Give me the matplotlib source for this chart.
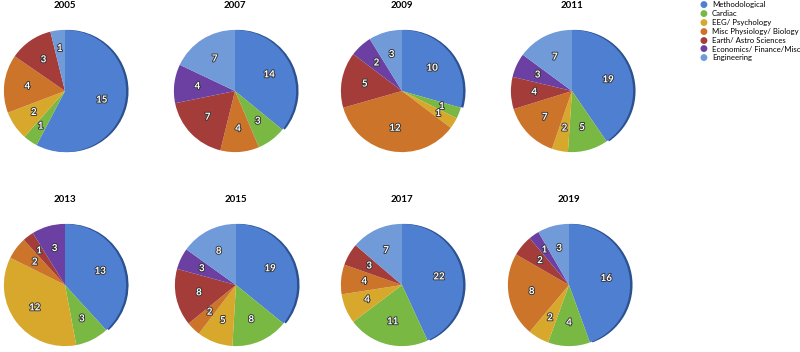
import numpy as np
import matplotlib.pyplot as plt
import matplotlib.patheffects as pe

# Papers per application area, clockwise from 12 o'clock
categories = ['Methodological', 'Cardiac', 'EEG/ Psychology', 'Misc Physiology/ Biology',
              'Earth/ Astro Sciences', 'Economics/ Finance/Misc', 'Engineering']
colors = ['#4f7fd0', '#78b843', '#d8a82d', '#cc7429', '#a43c3a', '#6b40a2', '#719ad9']

years = ['2005', '2007', '2009', '2011', '2013', '2015', '2017', '2019']
counts = {
    '2005': [15, 1, 2, 4, 3, 0, 1],
    '2007': [14, 3, 0, 4, 7, 4, 7],
    '2009': [10, 1, 1, 12, 5, 2, 3],
    '2011': [19, 5, 2, 7, 4, 3, 7],
    '2013': [13, 3, 12, 2, 1, 3, 0],
    '2015': [19, 8, 5, 2, 8, 3, 8],
    '2017': [22, 11, 4, 4, 3, 0, 7],
    '2019': [16, 4, 2, 8, 2, 1, 3],
}

W, H = 800, 352
fig = plt.figure(figsize=(W / 100, H / 100), dpi=100)
plt.rcParams['font.family'] = ['Lato', 'DejaVu Sans']

# pie centres in pixels (x from left, y from top) and radius
centres = [(65, 91), (235, 91), (402, 91), (572, 91),
           (65, 285), (236, 285), (402, 285), (569, 285)]
R = 66

for year, (cx, cy) in zip(years, centres):
    ax = fig.add_axes([(cx - R) / W, 1 - (cy + R) / H, 2 * R / W, 2 * R / H])
    vals = counts[year]
    # shadow under the methodological slice
    sh, _ = ax.pie(vals, colors=['#2c5190'] + ['none'] * 6, startangle=90,
                   counterclock=False, center=(0.04, 0.0), radius=1.0)
    for w in sh:
        w.set_zorder(0)
    wedges, _ = ax.pie(vals, colors=colors, startangle=90, counterclock=False,
                       radius=1.0, wedgeprops=dict(linewidth=0))
    for w, v in zip(wedges, vals):
        if v == 0:
            continue
        ang = np.deg2rad((w.theta1 + w.theta2) / 2)
        r = 0.62 if v > 1 else 0.7
        ax.text(r * np.cos(ang), r * np.sin(ang), str(v), ha='center', va='center',
                color='white', fontsize=7, fontweight='bold',
                path_effects=[pe.withStroke(linewidth=1.3, foreground='#333333')])
    ax.set_xlim(-1.08, 1.08)
    ax.set_ylim(-1.02, 1.02)
    ax.set_aspect('equal')
    ax.axis('off')
    fig.text(cx / W, 1 - (cy - R - 20) / H, year, ha='center', va='center',
             fontsize=7, fontweight='bold')

# legend
lx, ly, dy = 703, 5, 8.8
for i, (c, lab) in enumerate(zip(colors, categories)):
    y = 1 - (ly + i * dy) / H
    fig.text(lx / W, y, '\u25cf', color=c, fontsize=6.5, ha='center', va='center',
             family='DejaVu Sans')
    fig.text((lx + 9) / W, y, lab, fontsize=5.6, ha='left', va='center')

fig.savefig('out.png', dpi=100)
